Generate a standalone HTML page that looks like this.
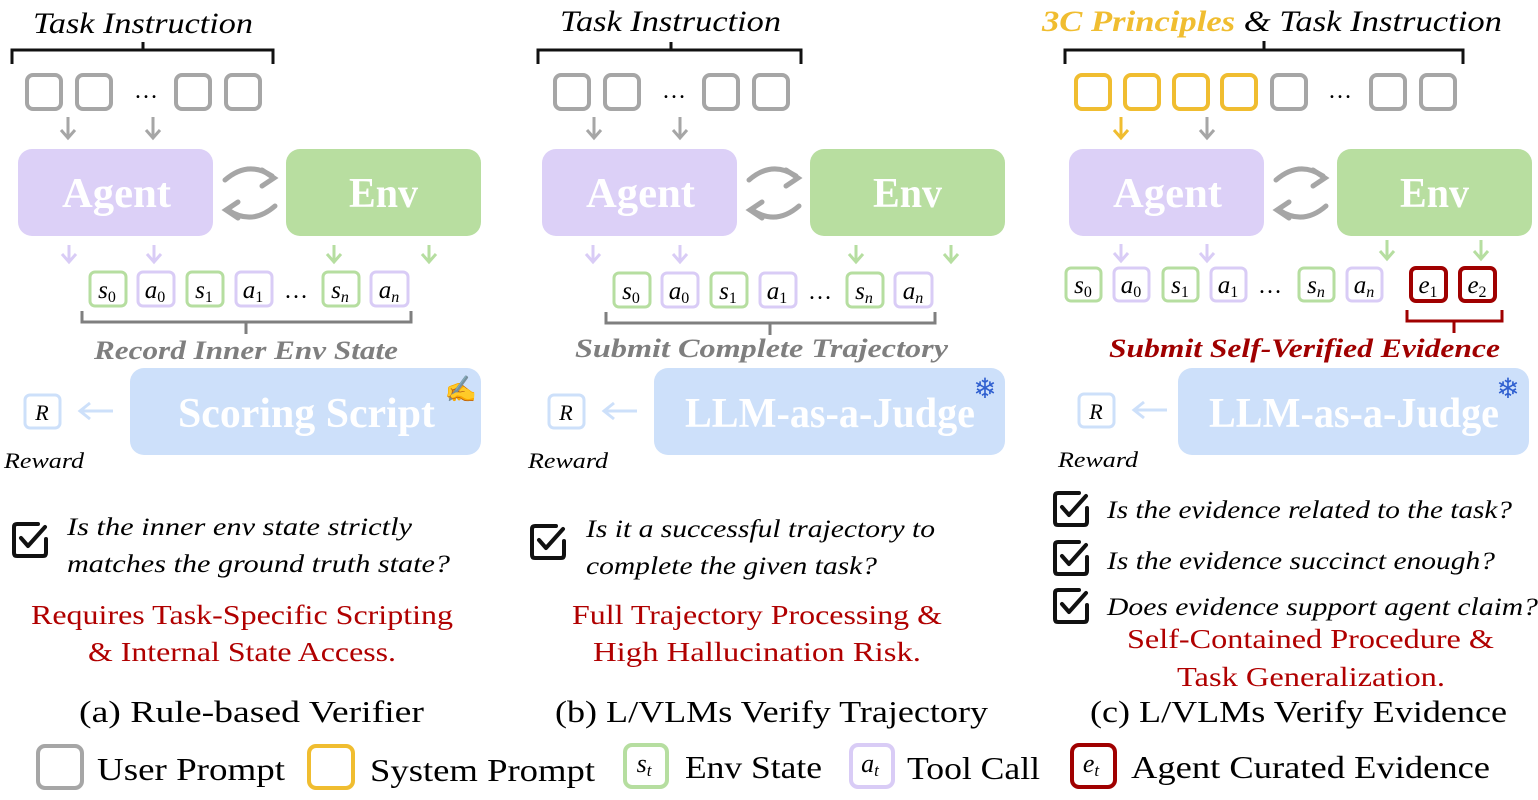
<!DOCTYPE html>
<html><head><meta charset="utf-8"><style>
html,body{margin:0;padding:0;background:#fff;}
svg{display:block;}
text{font-family:"Liberation Serif",serif;}
.it{font-style:italic;}
.bd{font-weight:bold;}
</style></head><body>
<svg width="1538" height="800" viewBox="0 0 1538 800" xmlns="http://www.w3.org/2000/svg">
<defs>
<g id="cyc" fill="none" stroke="#a6a6a6" stroke-width="5" stroke-linecap="round">
  <path d="M225,180 Q248,160 272,176"/><path d="M262,170 L274,178 L262,186" />
  <path d="M275,206 Q252,226 228,210"/><path d="M238,202 L226,210 L238,218"/>
</g>
<g id="chk" fill="none" stroke="#111" stroke-width="4" stroke-linejoin="round" stroke-linecap="round">
  <path d="M26,2 H5 Q2,2 2,5 V31 Q2,34 5,34 H31 Q34,34 34,31 V17"/>
  <path d="M9,16 L16,24 L33,5"/>
</g>
</defs>

<!-- ================= PANEL A ================= -->
<text x="33" y="33" font-size="30" class="it" textLength="220" lengthAdjust="spacingAndGlyphs">Task Instruction</text>
<path d="M12,64 V50 H143 V42 M143,50 H273 V64" fill="none" stroke="#111" stroke-width="3"/>
<g fill="none" stroke="#a6a6a6" stroke-width="4">
<rect x="27" y="75" width="34" height="34" rx="6"/><rect x="77" y="75" width="34" height="34" rx="6"/>
<rect x="176" y="75" width="34" height="34" rx="6"/><rect x="226" y="75" width="34" height="34" rx="6"/>
</g>
<text x="146" y="98" font-size="24" text-anchor="middle">…</text>
<g fill="none" stroke="#a6a6a6" stroke-width="3"><path d="M68,117 V138 M61,130 L68,138 L75,130"/><path d="M153,117 V138 M146,130 L153,138 L160,130"/></g>
<g id="ae">
<rect x="18" y="149" width="195" height="87" rx="14" fill="#dcd0f7"/>
<text x="62" y="207" font-size="42" class="bd" fill="#fff" textLength="109" lengthAdjust="spacingAndGlyphs">Agent</text>
<rect x="286" y="149" width="195" height="87" rx="14" fill="#b8dea0"/>
<text x="349" y="207" font-size="42" class="bd" fill="#fff" textLength="69" lengthAdjust="spacingAndGlyphs">Env</text>
<use href="#cyc"/>
</g>
<g fill="none" stroke-width="3">
<path d="M69,245 V262 M62,254 L69,262 L76,254" stroke="#d9ccf6"/>
<path d="M154,245 V262 M147,254 L154,262 L161,254" stroke="#d9ccf6"/>
<path d="M334,245 V262 M327,254 L334,262 L341,254" stroke="#b6dea0"/>
<path d="M429,245 V262 M422,254 L429,262 L436,254" stroke="#b6dea0"/>
</g>
<g id="tok">
<g stroke-width="3" fill="#fff">
<rect x="90" y="272" width="36" height="34" rx="5" stroke="#b6dea0"/>
<rect x="138" y="272" width="36" height="34" rx="5" stroke="#d9ccf6"/>
<rect x="187" y="272" width="36" height="34" rx="5" stroke="#b6dea0"/>
<rect x="236" y="272" width="36" height="34" rx="5" stroke="#d9ccf6"/>
<rect x="323" y="272" width="36" height="34" rx="5" stroke="#b6dea0"/>
<rect x="371" y="272" width="37" height="34" rx="5" stroke="#d9ccf6"/>
</g>
<g font-size="25" class="it" text-anchor="middle">
<text x="107" y="298">s<tspan font-size="16" dy="4" font-style="normal">0</tspan></text>
<text x="155" y="298">a<tspan font-size="16" dy="4" font-style="normal">0</tspan></text>
<text x="204" y="298">s<tspan font-size="16" dy="4" font-style="normal">1</tspan></text>
<text x="253" y="298">a<tspan font-size="16" dy="4" font-style="normal">1</tspan></text>
<text x="340" y="298">s<tspan font-size="16" dy="4">n</tspan></text>
<text x="389" y="298">a<tspan font-size="16" dy="4">n</tspan></text>
</g>
<text x="296" y="298" font-size="24" text-anchor="middle">…</text>
<path d="M82,311 V322 H411 V311 M246,322 V334" fill="none" stroke="#7f7f7f" stroke-width="3"/>
</g>
<text x="94" y="359" font-size="26" class="it bd" fill="#7f7f7f" textLength="304" lengthAdjust="spacingAndGlyphs">Record Inner Env State</text>
<rect x="130" y="368" width="351" height="87" rx="14" fill="#cde0fa"/>
<text x="178" y="427" font-size="42" class="bd" fill="#fff" textLength="257" lengthAdjust="spacingAndGlyphs">Scoring Script</text>
<text x="461" y="398" font-size="26" fill="#e6b422" text-anchor="middle">✍</text>
<g id="rw">
<rect x="25" y="395" width="35" height="33" rx="5" fill="#fff" stroke="#cde0fa" stroke-width="3"/>
<text x="42" y="420" font-size="22" class="it" text-anchor="middle">R</text>
<path d="M113,411 H80 M90,403 L80,411 L90,419" fill="none" stroke="#cde0fa" stroke-width="3"/>
<text x="4" y="468" font-size="22" class="it" textLength="80" lengthAdjust="spacingAndGlyphs">Reward</text>
</g>
<use href="#chk" x="12" y="522"/>
<text x="67" y="535" font-size="25" class="it" textLength="345" lengthAdjust="spacingAndGlyphs">Is the inner env state strictly</text>
<text x="67" y="572" font-size="25" class="it" textLength="383" lengthAdjust="spacingAndGlyphs">matches the ground truth state?</text>
<text x="31" y="624" font-size="27" fill="#b00000" textLength="422" lengthAdjust="spacingAndGlyphs">Requires Task-Specific Scripting</text>
<text x="88" y="661" font-size="27" fill="#b00000" textLength="308" lengthAdjust="spacingAndGlyphs">&amp; Internal State Access.</text>
<text x="79" y="722" font-size="31" textLength="345" lengthAdjust="spacingAndGlyphs">(a) Rule-based Verifier</text>

<!-- ================= PANEL B ================= -->
<text x="560" y="31" font-size="30" class="it" textLength="221" lengthAdjust="spacingAndGlyphs">Task Instruction</text>
<g transform="translate(524,0)">
<path d="M14,64 V50 H147 V42 M147,50 H277 V64" fill="none" stroke="#111" stroke-width="3"/>
<g fill="none" stroke="#a6a6a6" stroke-width="4">
<rect x="31" y="75" width="34" height="34" rx="6"/><rect x="81" y="75" width="34" height="34" rx="6"/>
<rect x="180" y="75" width="34" height="34" rx="6"/><rect x="230" y="75" width="34" height="34" rx="6"/>
</g>
<text x="150" y="98" font-size="24" text-anchor="middle">…</text>
<g fill="none" stroke="#a6a6a6" stroke-width="3"><path d="M70,117 V138 M63,130 L70,138 L77,130"/><path d="M156,117 V138 M149,130 L156,138 L163,130"/></g>
<use href="#ae"/>
<g fill="none" stroke-width="3">
<path d="M69,245 V262 M62,254 L69,262 L76,254" stroke="#d9ccf6"/>
<path d="M156,245 V262 M149,254 L156,262 L163,254" stroke="#d9ccf6"/>
<path d="M332,245 V262 M325,254 L332,262 L339,254" stroke="#b6dea0"/>
<path d="M427,245 V262 M420,254 L427,262 L434,254" stroke="#b6dea0"/>
</g>
<use href="#tok" y="1"/>
<rect x="130" y="368" width="351" height="87" rx="14" fill="#cde0fa"/>
<text x="161" y="427" font-size="42" class="bd" fill="#fff" textLength="290" lengthAdjust="spacingAndGlyphs">LLM-as-a-Judge</text>
<text x="461" y="398" font-size="28" fill="#3060d0" text-anchor="middle">❄</text>
<use href="#rw" x="0"/>
<use href="#chk" x="6" y="524"/>
</g>
<text x="575" y="357" font-size="26" class="it bd" fill="#7f7f7f" textLength="373" lengthAdjust="spacingAndGlyphs">Submit Complete Trajectory</text>
<text x="586" y="537" font-size="25" class="it" textLength="349" lengthAdjust="spacingAndGlyphs">Is it a successful trajectory to</text>
<text x="586" y="574" font-size="25" class="it" textLength="291" lengthAdjust="spacingAndGlyphs">complete the given task?</text>
<text x="572" y="624" font-size="27" fill="#b00000" textLength="370" lengthAdjust="spacingAndGlyphs">Full Trajectory Processing &amp;</text>
<text x="593" y="661" font-size="27" fill="#b00000" textLength="328" lengthAdjust="spacingAndGlyphs">High Hallucination Risk.</text>
<text x="555" y="722" font-size="31" textLength="433" lengthAdjust="spacingAndGlyphs">(b) L/VLMs Verify Trajectory</text>

<!-- ================= PANEL C ================= -->
<text x="1042" y="31" font-size="30" class="it" textLength="460" lengthAdjust="spacingAndGlyphs"><tspan fill="#f0bd30" font-weight="bold">3C Principles</tspan> &amp; Task Instruction</text>
<path d="M1065,64 V50 H1264 V41 M1264,50 H1463 V64" fill="none" stroke="#111" stroke-width="3"/>
<g fill="none" stroke-width="4">
<rect x="1076" y="75" width="34" height="34" rx="6" stroke="#f0bd30"/>
<rect x="1125" y="75" width="34" height="34" rx="6" stroke="#f0bd30"/>
<rect x="1174" y="75" width="34" height="34" rx="6" stroke="#f0bd30"/>
<rect x="1222" y="75" width="34" height="34" rx="6" stroke="#f0bd30"/>
<rect x="1272" y="75" width="34" height="34" rx="6" stroke="#a6a6a6"/>
<rect x="1371" y="75" width="34" height="34" rx="6" stroke="#a6a6a6"/>
<rect x="1421" y="75" width="34" height="34" rx="6" stroke="#a6a6a6"/>
</g>
<text x="1340" y="98" font-size="24" text-anchor="middle">…</text>
<g fill="none" stroke-width="3"><path d="M1121,117 V138 M1114,130 L1121,138 L1128,130" stroke="#f0bd30"/><path d="M1207,117 V138 M1200,130 L1207,138 L1214,130" stroke="#a6a6a6"/></g>
<g transform="translate(1051,0)">
<use href="#ae"/>
<rect x="127" y="368" width="351" height="87" rx="14" fill="#cde0fa"/>
<text x="158" y="427" font-size="42" class="bd" fill="#fff" textLength="290" lengthAdjust="spacingAndGlyphs">LLM-as-a-Judge</text>
<text x="457" y="398" font-size="28" fill="#3060d0" text-anchor="middle">❄</text>
<use href="#rw" x="3" y="-1"/>
</g>
<g fill="none" stroke-width="3">
<path d="M1121,244 V261 M1114,253 L1121,261 L1128,253" stroke="#d9ccf6"/>
<path d="M1207,244 V261 M1200,253 L1207,261 L1214,253" stroke="#d9ccf6"/>
<path d="M1387,240 V259 M1380,251 L1387,259 L1394,251" stroke="#b6dea0"/>
<path d="M1481,240 V259 M1474,251 L1481,259 L1488,251" stroke="#b6dea0"/>
</g>
<g stroke-width="3" fill="#fff">
<rect x="1066" y="268" width="35" height="33" rx="5" stroke="#b6dea0"/>
<rect x="1114" y="268" width="35" height="33" rx="5" stroke="#d9ccf6"/>
<rect x="1163" y="268" width="35" height="33" rx="5" stroke="#b6dea0"/>
<rect x="1211" y="268" width="35" height="33" rx="5" stroke="#d9ccf6"/>
<rect x="1299" y="268" width="35" height="33" rx="5" stroke="#b6dea0"/>
<rect x="1347" y="268" width="35" height="33" rx="5" stroke="#d9ccf6"/>
<rect x="1411" y="268" width="35" height="33" rx="5" stroke="#a00000" stroke-width="4"/>
<rect x="1460" y="268" width="35" height="33" rx="5" stroke="#a00000" stroke-width="4"/>
</g>
<g font-size="25" class="it" text-anchor="middle">
<text x="1083" y="293">s<tspan font-size="16" dy="4" font-style="normal">0</tspan></text>
<text x="1131" y="293">a<tspan font-size="16" dy="4" font-style="normal">0</tspan></text>
<text x="1180" y="293">s<tspan font-size="16" dy="4" font-style="normal">1</tspan></text>
<text x="1228" y="293">a<tspan font-size="16" dy="4" font-style="normal">1</tspan></text>
<text x="1316" y="293">s<tspan font-size="16" dy="4">n</tspan></text>
<text x="1364" y="293">a<tspan font-size="16" dy="4">n</tspan></text>
<text x="1428" y="293">e<tspan font-size="16" dy="4" font-style="normal">1</tspan></text>
<text x="1477" y="293">e<tspan font-size="16" dy="4" font-style="normal">2</tspan></text>
</g>
<text x="1270" y="293" font-size="24" text-anchor="middle">…</text>
<path d="M1407,310 V321 H1502 V310 M1454,321 V333" fill="none" stroke="#a00000" stroke-width="3"/>
<text x="1109" y="357" font-size="26" class="it bd" fill="#a00000" textLength="391" lengthAdjust="spacingAndGlyphs">Submit Self-Verified Evidence</text>
<use href="#chk" x="1053" y="491"/>
<use href="#chk" x="1053" y="540"/>
<use href="#chk" x="1053" y="588"/>
<text x="1107" y="518" font-size="25" class="it" textLength="405" lengthAdjust="spacingAndGlyphs">Is the evidence related to the task?</text>
<text x="1107" y="569" font-size="25" class="it" textLength="388" lengthAdjust="spacingAndGlyphs">Is the evidence succinct enough?</text>
<text x="1107" y="615" font-size="25" class="it" textLength="431" lengthAdjust="spacingAndGlyphs">Does evidence support  agent claim?</text>
<text x="1127" y="648" font-size="27" fill="#b00000" textLength="367" lengthAdjust="spacingAndGlyphs">Self-Contained Procedure &amp;</text>
<text x="1177" y="686" font-size="27" fill="#b00000" textLength="268" lengthAdjust="spacingAndGlyphs">Task Generalization.</text>
<text x="1090" y="722" font-size="31" textLength="417" lengthAdjust="spacingAndGlyphs">(c) L/VLMs Verify Evidence</text>

<!-- ================= LEGEND ================= -->
<g fill="#fff" stroke-width="4">
<rect x="38" y="746" width="44" height="42" rx="7" stroke="#a6a6a6"/>
<rect x="309" y="746" width="44" height="42" rx="7" stroke="#f0bd30"/>
<rect x="625" y="745" width="42" height="42" rx="7" stroke="#b6dea0"/>
<rect x="851" y="745" width="42" height="42" rx="7" stroke="#d9ccf6"/>
<rect x="1072" y="745" width="43" height="42" rx="7" stroke="#a00000"/>
</g>
<g font-size="26" class="it" text-anchor="middle">
<text x="644" y="772">s<tspan font-size="17" dy="4">t</tspan></text>
<text x="870" y="772">a<tspan font-size="17" dy="4">t</tspan></text>
<text x="1091" y="772">e<tspan font-size="17" dy="4">t</tspan></text>
</g>
<g font-size="32">
<text x="97" y="780" textLength="188" lengthAdjust="spacingAndGlyphs">User Prompt</text>
<text x="370" y="781" textLength="225" lengthAdjust="spacingAndGlyphs">System Prompt</text>
<text x="685" y="778" textLength="137" lengthAdjust="spacingAndGlyphs">Env State</text>
<text x="907" y="779" textLength="133" lengthAdjust="spacingAndGlyphs">Tool Call</text>
<text x="1131" y="778" textLength="359" lengthAdjust="spacingAndGlyphs">Agent Curated Evidence</text>
</g>
</svg>
</body></html>
